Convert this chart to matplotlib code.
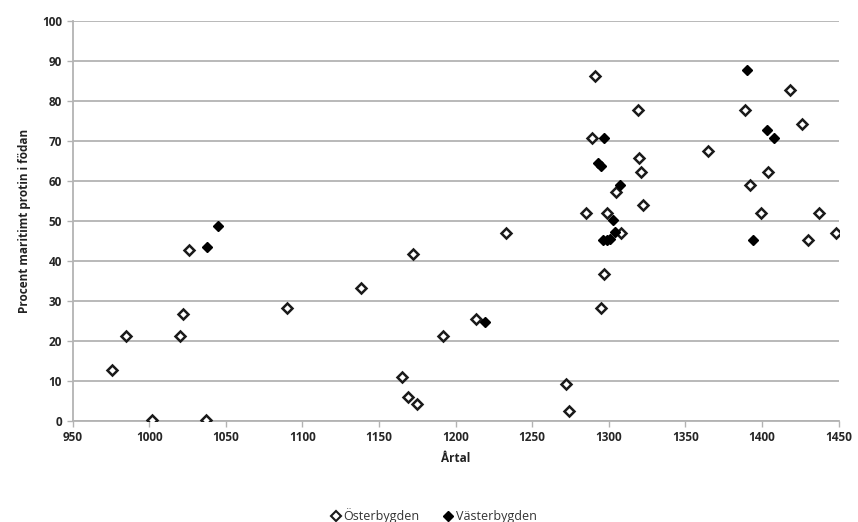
import matplotlib
matplotlib.use("Agg")
import matplotlib.pyplot as plt
from matplotlib.lines import Line2D

plt.rcParams['font.family'] = ['Open Sans', 'DejaVu Sans']

# Österbygden (open diamonds)
oster_year = [976, 985, 1002, 1020, 1022, 1026, 1037, 1090, 1138, 1165, 1169, 1175,
              1172, 1192, 1213, 1233, 1272, 1274, 1285, 1289, 1291, 1295, 1297, 1299,
              1305, 1308, 1319, 1320, 1321, 1322, 1365, 1389, 1392, 1399, 1404, 1418,
              1426, 1430, 1437, 1448]
oster_pct = [12.7, 21.3, 0.2, 21.3, 26.8, 42.8, 0.2, 28.2, 33.3, 11.0, 5.9, 4.1,
             41.8, 21.3, 25.5, 46.9, 9.3, 2.5, 52.0, 70.8, 86.3, 28.2, 36.7, 52.0,
             57.1, 47.0, 77.6, 65.8, 62.3, 53.9, 67.5, 77.6, 58.9, 52.0, 62.3, 82.8,
             74.3, 45.2, 52.0, 47.0]

# Västerbygden (filled diamonds)
vaster_year = [1038, 1045, 1219, 1293, 1295, 1296, 1297, 1299, 1301, 1303, 1304,
               1307, 1390, 1394, 1403, 1408]
vaster_pct = [43.4, 48.6, 24.7, 64.5, 63.8, 45.2, 70.8, 45.2, 45.4, 50.3, 47.3,
              58.9, 87.8, 45.2, 72.7, 70.8]

fig = plt.figure(figsize=(8.58, 5.22), dpi=100)
ax = fig.add_axes([0.0845, 0.194, 0.893, 0.766])

ax.plot(oster_year, oster_pct, linestyle='none', marker='D', markersize=5.6,
        markerfacecolor='white', markeredgecolor='#1a1a1a', markeredgewidth=1.8,
        zorder=3)
ax.plot(vaster_year, vaster_pct, linestyle='none', marker='D', markersize=5.6,
        markerfacecolor='black', markeredgecolor='black', markeredgewidth=1.0,
        zorder=4)

ax.set_xlim(950, 1450)
ax.set_ylim(0, 100)
ax.set_xticks(range(950, 1451, 50))
ax.set_yticks(range(0, 101, 10))
ax.yaxis.grid(True, color='#b3b3b3', linewidth=1.3)
ax.set_axisbelow(True)

for s in ['top', 'right']:
    ax.spines[s].set_visible(False)
for s in ['left', 'bottom']:
    ax.spines[s].set_color('#b3b3b3')
    ax.spines[s].set_linewidth(1.3)

ax.tick_params(axis='both', colors='#b3b3b3', labelcolor='#262626',
               labelsize=8.5, length=4, width=1.0)
for lab in ax.get_xticklabels() + ax.get_yticklabels():
    lab.set_fontweight('bold')

ax.set_xlabel('Årtal', fontsize=8.5, fontweight='bold', color='#222222', labelpad=6)
ax.set_ylabel('Procent maritimt protin i födan', fontsize=8.5, fontweight='bold',
              color='#222222', labelpad=8)

handles = [
    Line2D([], [], linestyle='none', marker='D', markersize=5, markerfacecolor='white',
           markeredgecolor='#1a1a1a', markeredgewidth=1.5, label='Österbygden'),
    Line2D([], [], linestyle='none', marker='D', markersize=5, markerfacecolor='black',
           markeredgecolor='black', label='Västerbygden'),
]
fig.legend(handles=handles, loc='center', bbox_to_anchor=(0.505, 0.012), ncol=2,
           frameon=False, fontsize=9, handletextpad=0.1, columnspacing=1.8,
           handlelength=1.0, labelcolor='#333333')

fig.savefig('out.png', dpi=100)
